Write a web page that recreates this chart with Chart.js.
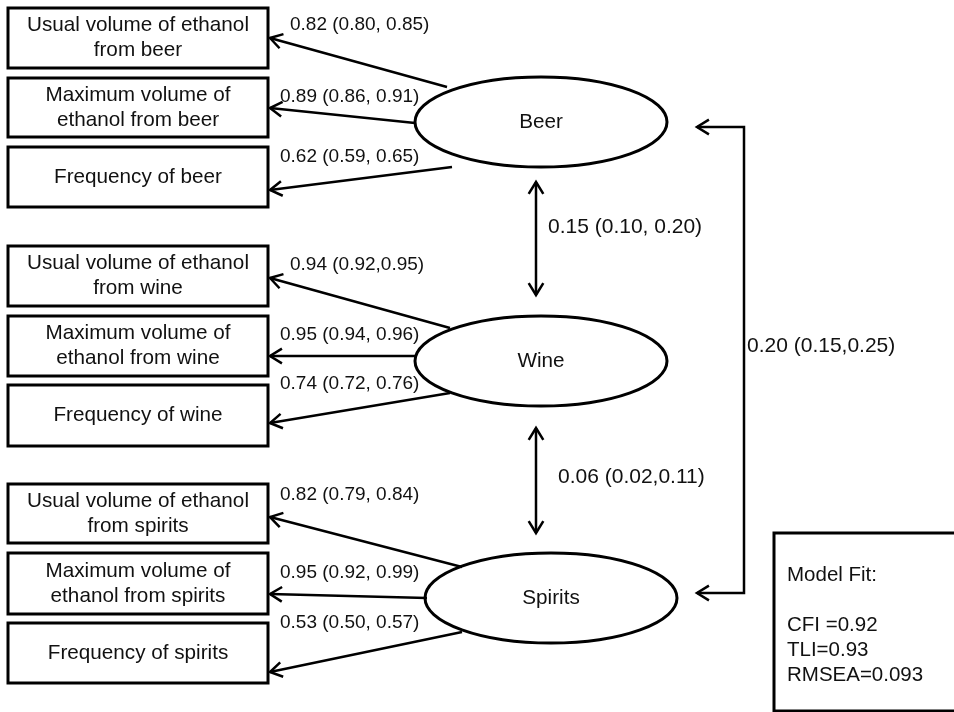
<!DOCTYPE html>
<html>
<head>
<meta charset="utf-8">
<script src="https://cdn.jsdelivr.net/npm/chart.js@4"></script>
<style>
  html, body { margin: 0; padding: 0; background: #fff; }
  #wrap { width: 954px; height: 712px; }
</style>
</head>
<body>
<div id="wrap"><canvas id="diagram"></canvas></div>
<script>
// Werte aus dem Modell
const factors = ['Beer', 'Wine', 'Spirits'];
const indicators = [
    'Usual volume of ethanol\nfrom beer', 'Maximum volume of\nethanol from beer', 'Frequency of beer',
    'Usual volume of ethanol\nfrom wine', 'Maximum volume of\nethanol from wine', 'Frequency of wine',
    'Usual volume of ethanol\nfrom spirits', 'Maximum volume of\nethanol from spirits', 'Frequency of spirits'
];
const indicatorFactor = [0, 0, 0, 1, 1, 1, 2, 2, 2];
const loadings    = [0.82, 0.89, 0.62, 0.94, 0.95, 0.74, 0.82, 0.95, 0.53];
const loadingLow  = [0.80, 0.86, 0.59, 0.92, 0.94, 0.72, 0.79, 0.92, 0.50];
const loadingHigh = [0.85, 0.91, 0.65, 0.95, 0.96, 0.76, 0.84, 0.99, 0.57];
const loadingTight = [false, false, false, true, false, false, false, false, false];

const corrPairs = [[0, 1], [1, 2], [0, 2]];
const corrValues = [0.15, 0.06, 0.20];
const corrLow    = [0.10, 0.02, 0.15];
const corrHigh   = [0.20, 0.11, 0.25];
const corrTight  = [false, true, true];

const fitTitle = 'Model Fit:';
const fitLabels = ['CFI =', 'TLI=', 'RMSEA='];
const fitValues = ['0.92', '0.93', '0.093'];

// Layout (Koordinaten im Diagrammraum)
const boxX = [8, 268];
const boxTop = [8, 78, 147, 246, 316, 385, 484, 553, 623];
const boxBottom = [68, 137, 207, 306, 376, 446, 543, 614, 683];
const ellCenter = [[541, 122], [541, 361], [551, 598]];
const ellR = [126, 45];
const arrowFrom = [[447, 87], [415, 123], [452, 167], [450, 328], [417, 356], [450, 393], [462, 567], [427, 598], [462, 632]];
const arrowTo = [[270, 38], [270, 108], [270, 190], [270, 278], [270, 356], [270, 423], [270, 517], [270, 594], [270, 672]];
const loadLabelPos = [[290, 25], [280, 97], [280, 157], [290, 265], [280, 335], [280, 384], [280, 495], [280, 573], [280, 623]];
const corrLine = [[536, 182, 295], [536, 428, 533]];
const corrLabelPos = [[548, 227], [558, 477], [747, 346]];
const sideLine = { x: 744, x0: 697, y1: 127, y2: 593 };
const fitBox = { x: 774, y: 533 };

function fmt(v, lo, hi, tight) {
    return v.toFixed(2) + ' (' + lo.toFixed(2) + (tight ? ',' : ', ') + hi.toFixed(2) + ')';
}

const FONT = '"Liberation Sans", Arial, sans-serif';

const diagramPlugin = {
    id: 'semDiagram',
    afterDraw(chart) {
        const ctx = chart.ctx;
        const sx = chart.scales.x, sy = chart.scales.y;
        const px = v => sx.getPixelForValue(v);
        const py = v => sy.getPixelForValue(v);

        function head(tx, ty, fx, fy) {
            const a = Math.atan2(ty - fy, tx - fx);
            const len = 14, spread = 0.55;
            ctx.beginPath();
            ctx.moveTo(px(tx) - len * Math.cos(a - spread), py(ty) - len * Math.sin(a - spread));
            ctx.lineTo(px(tx), py(ty));
            ctx.lineTo(px(tx) - len * Math.cos(a + spread), py(ty) - len * Math.sin(a + spread));
            ctx.stroke();
        }
        function arrow(fx, fy, tx, ty) {
            ctx.beginPath();
            ctx.moveTo(px(fx), py(fy));
            ctx.lineTo(px(tx), py(ty));
            ctx.stroke();
            head(tx, ty, fx, fy);
        }

        ctx.save();
        ctx.strokeStyle = '#000';
        ctx.fillStyle = '#111';
        ctx.lineCap = 'butt';
        ctx.lineJoin = 'miter';

        // Indikatoren
        ctx.lineWidth = 3;
        ctx.font = '20.7px ' + FONT;
        ctx.textAlign = 'center';
        ctx.textBaseline = 'middle';
        indicators.forEach((txt, i) => {
            const x0 = px(boxX[0]), x1 = px(boxX[1]);
            const y0 = py(boxTop[i]), y1 = py(boxBottom[i]);
            ctx.strokeRect(x0, y0, x1 - x0, y1 - y0);
            const lines = txt.split('\n');
            const cy = (y0 + y1) / 2;
            lines.forEach((ln, k) => {
                ctx.fillText(ln, (x0 + x1) / 2, cy + (k - (lines.length - 1) / 2) * 25);
            });
        });

        // Faktoren
        factors.forEach((f, i) => {
            ctx.beginPath();
            ctx.ellipse(px(ellCenter[i][0]), py(ellCenter[i][1]), ellR[0], ellR[1], 0, 0, Math.PI * 2);
            ctx.stroke();
            ctx.fillText(f, px(ellCenter[i][0]), py(ellCenter[i][1]));
        });

        // Ladungen
        ctx.lineWidth = 2.5;
        indicators.forEach((_, i) => {
            arrow(arrowFrom[i][0], arrowFrom[i][1], arrowTo[i][0], arrowTo[i][1]);
        });
        ctx.font = '19px ' + FONT;
        ctx.textAlign = 'left';
        loadings.forEach((v, i) => {
            ctx.fillText(fmt(v, loadingLow[i], loadingHigh[i], loadingTight[i]), px(loadLabelPos[i][0]), py(loadLabelPos[i][1]));
        });

        // Korrelationen
        corrLine.forEach(c => {
            ctx.beginPath();
            ctx.moveTo(px(c[0]), py(c[1]));
            ctx.lineTo(px(c[0]), py(c[2]));
            ctx.stroke();
            head(c[0], c[1], c[0], c[2]);
            head(c[0], c[2], c[0], c[1]);
        });
        ctx.beginPath();
        ctx.moveTo(px(sideLine.x0), py(sideLine.y1));
        ctx.lineTo(px(sideLine.x), py(sideLine.y1));
        ctx.lineTo(px(sideLine.x), py(sideLine.y2));
        ctx.lineTo(px(sideLine.x0), py(sideLine.y2));
        ctx.stroke();
        head(sideLine.x0, sideLine.y1, sideLine.x, sideLine.y1);
        head(sideLine.x0, sideLine.y2, sideLine.x, sideLine.y2);
        ctx.font = '21px ' + FONT;
        corrValues.forEach((v, i) => {
            ctx.fillText(fmt(v, corrLow[i], corrHigh[i], corrTight[i]), px(corrLabelPos[i][0]), py(corrLabelPos[i][1]));
        });

        // Modellguete
        ctx.lineWidth = 3;
        ctx.strokeRect(px(fitBox.x), py(fitBox.y), px(960) - px(fitBox.x), py(711) - py(fitBox.y));
        ctx.font = '20.5px ' + FONT;
        ctx.fillText(fitTitle, px(fitBox.x + 13), py(fitBox.y + 42));
        fitLabels.forEach((l, i) => {
            ctx.fillText(l + fitValues[i], px(fitBox.x + 13), py(fitBox.y + 92 + i * 25));
        });
        ctx.restore();
    }
};

new Chart(document.getElementById('diagram'), {
    type: 'scatter',
    data: {
        datasets: [{
            data: ellCenter.map(c => ({ x: c[0], y: c[1] })),
            pointRadius: 0
        }]
    },
    options: {
        responsive: true,
        maintainAspectRatio: false,
        animation: false,
        layout: { padding: 0 },
        plugins: { legend: { display: false }, tooltip: { enabled: false } },
        scales: {
            x: { type: 'linear', min: 0, max: 954, display: false },
            y: { type: 'linear', min: 0, max: 712, reverse: true, display: false }
        }
    },
    plugins: [diagramPlugin]
});
</script>
</body>
</html>
